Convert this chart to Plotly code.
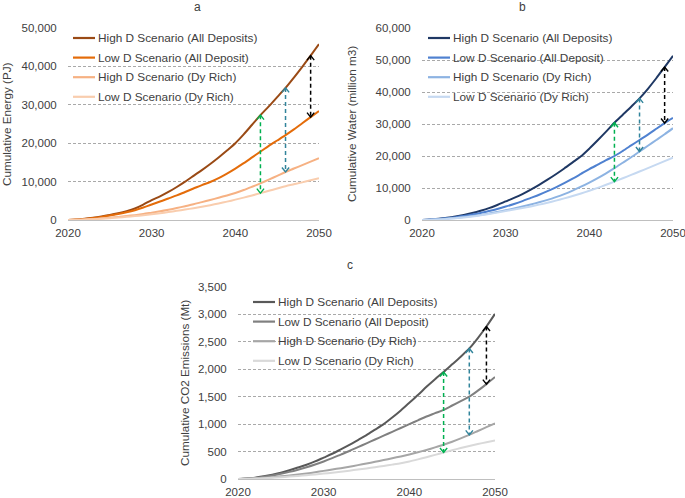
import plotly.graph_objects as go

# ---------------- data ----------------
years = list(range(2020, 2051))
series_names = [
    "High D Scenario (All Deposits)",
    "Low D Scenario (All Deposit)",
    "High D Scenario (Dy Rich)",
    "Low D Scenario (Dy Rich)",
]

# Panel a: cumulative energy (PJ)
a_high_all = [0, 120, 320, 600, 930, 1300, 1750, 2300, 3000, 4000,
              5200, 6150, 7300, 8600, 10000, 11500, 13000, 14600, 16300, 18100, 20000,
              22300, 24800, 27300, 29600, 32000, 34400, 37100, 39900, 42800, 45800]
a_low_all = [0, 100, 280, 520, 800, 1150, 1550, 2000, 2550, 3250,
             4050, 4800, 5600, 6400, 7300, 8200, 9100, 9900, 10900, 12100, 13400,
             14800, 16300, 17800, 19300, 20700, 22100, 23600, 25200, 26800, 28400]
a_high_dy = [0, 50, 150, 280, 430, 600, 800, 1020, 1270, 1550,
             1900, 2250, 2650, 3100, 3600, 4100, 4650, 5200, 5800, 6400, 7050,
             7800, 8650, 9550, 10500, 11500, 12500, 13400, 14300, 15200, 16100]
a_low_dy = [0, 40, 120, 220, 340, 480, 640, 820, 1020, 1250,
            1500, 1770, 2060, 2380, 2720, 3080, 3460, 3860, 4300, 4780, 5300,
            5830, 6400, 7000, 7600, 8200, 8800, 9300, 9800, 10350, 10900]

# Panel b: cumulative water (million m3)
b_high_all = [0, 150, 400, 700, 1100, 1600, 2200, 2900, 3700, 4700,
              5800, 6900, 8100, 9500, 11000, 12600, 14300, 16100, 18000, 19900, 22300,
              24900, 27600, 30400, 32900, 35400, 38000, 41000, 44300, 47800, 51300]
b_low_all = [0, 120, 320, 580, 900, 1250, 1700, 2200, 2800, 3450,
             4200, 5000, 5900, 6900, 7900, 9000, 10200, 11500, 12900, 14400, 15900,
             17300, 18700, 20000, 21600, 23300, 25000, 26700, 28500, 30300, 31900]
b_high_dy = [0, 90, 240, 430, 660, 930, 1240, 1590, 1990, 2500,
             3050, 3600, 4200, 4850, 5550, 6300, 7150, 8100, 9200, 10400, 11700,
             13100, 14600, 16200, 17900, 19600, 21400, 23200, 25000, 26800, 28700]
b_low_dy = [0, 70, 180, 340, 550, 800, 1100, 1450, 1850, 2300,
            2800, 3250, 3750, 4250, 4800, 5400, 6050, 6750, 7500, 8300, 9150,
            10050, 11000, 12000, 13050, 14100, 15150, 16200, 17300, 18400, 19500]

# Panel c: cumulative CO2 emissions (Mt)
c_high_all = [0, 10, 25, 50, 80, 115, 160, 210, 260, 320,
              390, 460, 540, 620, 710, 800, 900, 1000, 1120, 1250, 1390,
              1530, 1680, 1820, 1950, 2090, 2230, 2380, 2570, 2780, 3010]
c_low_all = [0, 8, 20, 40, 65, 95, 130, 170, 215, 265,
             320, 380, 445, 510, 580, 650, 720, 790, 860, 930, 1000,
             1070, 1140, 1200, 1260, 1340, 1420, 1500, 1610, 1730, 1860]
c_high_dy = [0, 5, 12, 22, 34, 48, 63, 80, 100, 123,
             148, 172, 198, 225, 253, 283, 313, 345, 378, 412, 448,
             487, 530, 576, 625, 680, 740, 805, 875, 945, 1015]
c_low_dy = [0, 3, 8, 15, 23, 33, 44, 56, 69, 83,
            98, 115, 133, 152, 172, 193, 215, 238, 262, 287, 320,
            358, 398, 440, 483, 525, 565, 603, 638, 670, 700]

x_ticks = [2020, 2030, 2040, 2050]
a_arrow_years = [2043, 2046, 2049]
b_arrow_years = [2043, 2046, 2049]
c_arrow_years = [2044, 2047, 2049]

# ---------------- styling / layout ----------------
W, H = 685, 498
FONT = "Liberation Sans, Arial, sans-serif"
TXT = "#404040"
arrow_colors = ["#00B050", "#31849B", "#000000"]   # green, teal, black
arrow_targets = [3, 2, 1]                           # from series 0 to these
HEAD_W, HEAD_H = 3.6, 4.5                           # chevron half-width / height in px

def px(x):
    return x / W

def py(y):
    return 1 - y / H

panels = [
    dict(label="a", box=(68, 319, 28, 220), ymax=50000, dtick=10000,
         ytitle="Cumulative Energy (PJ)", ytitle_x=6, label_xy=(197, 7),
         leg=(73, 38), data=[a_high_all, a_low_all, a_high_dy, a_low_dy],
         colors=["#9A4A15", "#E46C0A", "#F6B183", "#F9CDAE"], arrows=a_arrow_years),
    dict(label="b", box=(422, 673, 28, 220), ymax=60000, dtick=10000,
         ytitle="Cumulative Water (million m3)", ytitle_x=351, label_xy=(522, 7),
         leg=(428, 38), data=[b_high_all, b_low_all, b_high_dy, b_low_dy],
         colors=["#1F3864", "#4F81D0", "#8DB3E2", "#C6D9F1"], arrows=b_arrow_years),
    dict(label="c", box=(238, 495, 287, 479), ymax=3500, dtick=500,
         ytitle="Cumulative CO2 Emissions (Mt)", ytitle_x=184, label_xy=(350, 265),
         leg=(253, 302), data=[c_high_all, c_low_all, c_high_dy, c_low_dy],
         colors=["#595959", "#808080", "#A6A6A6", "#D9D9D9"], arrows=c_arrow_years),
]

fig = go.Figure()
annotations = []
shapes = []
layout = {}

for i, p in enumerate(panels):
    sfx = "" if i == 0 else str(i + 1)
    xa, ya = "x" + sfx, "y" + sfx
    x0, x1, y0, y1 = p["box"]
    xr = [years[0], years[-1]]
    layout["xaxis" + sfx] = dict(
        domain=[px(x0), px(x1)], range=xr, tickvals=x_ticks,
        showgrid=False, zeroline=False, showline=True, linecolor="#BFBFBF",
        linewidth=1, ticks="outside", ticklen=2, tickcolor="rgba(0,0,0,0)",
        tickfont=dict(family=FONT, size=11.5, color=TXT), anchor=ya,
        fixedrange=True, automargin=False, ticklabeloverflow="allow",
    )
    layout["yaxis" + sfx] = dict(
        domain=[py(y1), py(y0)], range=[0, p["ymax"]], dtick=p["dtick"],
        tickformat=",", showgrid=True, gridcolor="#A9A9A9", gridwidth=1,
        griddash="3px,2px", zeroline=False, showline=False,
        ticks="outside", ticklen=8, tickcolor="rgba(0,0,0,0)",
        tickfont=dict(family=FONT, size=11.5, color=TXT), anchor=xa,
        fixedrange=True, automargin=False, ticklabeloverflow="allow",
    )

    # data lines
    for name, vals, col in zip(series_names, p["data"], p["colors"]):
        fig.add_trace(go.Scatter(
            x=years, y=vals, mode="lines", name=name, showlegend=False,
            line=dict(color=col, width=2, shape="spline", smoothing=0.8),
            xaxis=xa, yaxis=ya, hoverinfo="skip",
        ))

    # double-headed dashed arrows with open chevron heads
    dx = HEAD_W * (xr[1] - xr[0]) / (x1 - x0)
    dy = HEAD_H * p["ymax"] / (y1 - y0)
    for yr, tgt, col in zip(p["arrows"], arrow_targets, arrow_colors):
        k = years.index(yr)
        top = p["data"][0][k]
        bot = p["data"][tgt][k]
        fig.add_trace(go.Scatter(
            x=[yr, yr], y=[top, bot], mode="lines", showlegend=False,
            line=dict(color=col, width=1.5, dash="4px,3px"),
            xaxis=xa, yaxis=ya, hoverinfo="skip",
        ))
        fig.add_trace(go.Scatter(
            x=[yr - dx, yr, yr + dx, None, yr - dx, yr, yr + dx],
            y=[top - dy, top, top - dy, None, bot + dy, bot, bot + dy],
            mode="lines", showlegend=False,
            line=dict(color=col, width=1.4),
            xaxis=xa, yaxis=ya, hoverinfo="skip",
        ))

    # manual legend
    lx, ly = p["leg"]
    for j, (name, col) in enumerate(zip(series_names, p["colors"])):
        yy = ly + j * 19.6
        shapes.append(dict(type="line", xref="paper", yref="paper",
                           x0=px(lx), x1=px(lx + 22), y0=py(yy), y1=py(yy),
                           line=dict(color=col, width=2.2)))
        annotations.append(dict(x=px(lx + 22.5), y=py(yy), xref="paper", yref="paper",
                                text=name, showarrow=False, xanchor="left",
                                yanchor="middle",
                                font=dict(family=FONT, size=11.8, color=TXT)))

    # y-axis title
    annotations.append(dict(x=px(p["ytitle_x"]), y=py((y0 + y1) / 2), xref="paper",
                            yref="paper", text=p["ytitle"], textangle=-90,
                            showarrow=False, xanchor="center", yanchor="middle",
                            font=dict(family=FONT, size=11.7, color=TXT)))
    # panel label
    lxp, lyp = p["label_xy"]
    annotations.append(dict(x=px(lxp), y=py(lyp), xref="paper", yref="paper",
                            text=p["label"], showarrow=False, xanchor="center",
                            yanchor="middle",
                            font=dict(family=FONT, size=12, color=TXT)))

fig.update_layout(
    width=W, height=H, margin=dict(l=0, r=0, t=0, b=0, autoexpand=False),
    paper_bgcolor="white", plot_bgcolor="white",
    annotations=annotations, shapes=shapes, showlegend=False,
    font=dict(family=FONT, color=TXT),
    **layout,
)

fig.write_html("out.html", config={"displayModeBar": False},
               post_script="document.body.style.margin='0';document.body.style.padding='0';")
